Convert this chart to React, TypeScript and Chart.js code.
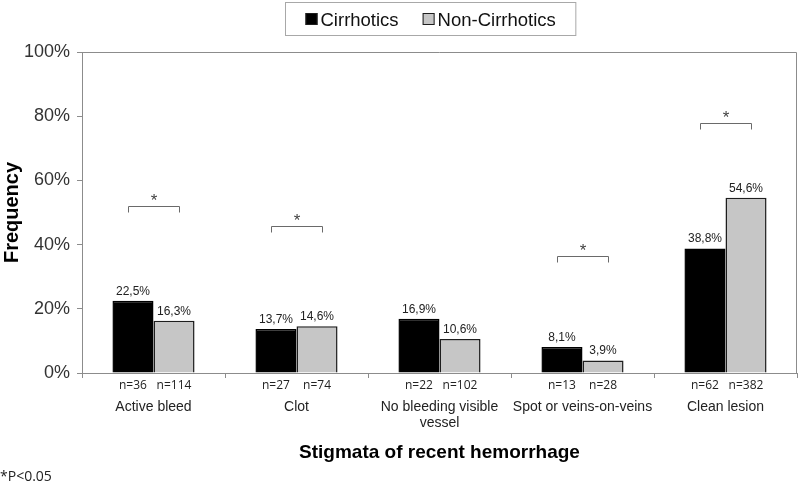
import React, { useEffect, useRef } from "react";
import { Chart, registerables } from "chart.js";

Chart.register(...registerables);

// ---- data ----
const categories: (string | string[])[] = [
  "Active bleed",
  "Clot",
  ["No bleeding visible", "vessel"],
  "Spot or veins-on-veins",
  "Clean lesion",
];
const seriesLabels = ["Cirrhotics", "Non-Cirrhotics"];
const cirrhotics = [22.5, 13.7, 16.9, 8.1, 38.8];
const nonCirrhotics = [16.3, 14.6, 10.6, 3.9, 54.6];
const nCirrhotics = [36, 27, 22, 13, 62];
const nNonCirrhotics = [114, 74, 102, 28, 382];
// height (in %) of the significance bracket for each category (null = none)
const significanceLevels: (number | null)[] = [52, 45.8, null, 36.4, 77.9];
const yMin = 0;
const yMax = 100;
const yStep = 20;
const xTitle = "Stigmata of recent hemorrhage";
const yTitle = "Frequency";
const footnote = "*P<0.05";

const SANS = '"Liberation Sans", Arial, sans-serif';
const AXIS_COLOR = "#8c8c8c";

const annotatePlugin = {
  id: "annotate",
  afterDraw(chart: any) {
    const ctx = chart.ctx as CanvasRenderingContext2D;
    const { left, right, top, bottom } = chart.chartArea;
    ctx.save();

    // top and right frame of the plot area
    ctx.strokeStyle = AXIS_COLOR;
    ctx.lineWidth = 1;
    ctx.beginPath();
    ctx.moveTo(left, top + 0.5);
    ctx.lineTo(right - 0.5, top + 0.5);
    ctx.lineTo(right - 0.5, bottom);
    ctx.stroke();

    // value labels above bars and n labels under the axis
    const nArrays = [nCirrhotics, nNonCirrhotics];
    chart.data.datasets.forEach((ds: any, di: number) => {
      const meta = chart.getDatasetMeta(di);
      meta.data.forEach((bar: any, i: number) => {
        const v = ds.data[i] as number;
        ctx.fillStyle = "#222";
        ctx.textAlign = "center";
        ctx.textBaseline = "alphabetic";
        ctx.font = `12px ${SANS}`;
        ctx.fillText(v.toFixed(1).replace(".", ",") + "%", bar.x, bar.y - 6);
        ctx.font = `12px "Open Sans", sans-serif`;
        ctx.fillText("n=" + nArrays[di][i], bar.x, bottom + 15.5);
      });
    });

    // significance brackets
    const yScale = chart.scales.y;
    significanceLevels.forEach((lvl, i) => {
      if (lvl == null) return;
      const b0 = chart.getDatasetMeta(0).data[i];
      const b1 = chart.getDatasetMeta(1).data[i];
      const x0 = Math.round(b0.x - 5) + 0.5;
      const x1 = Math.round(b1.x + 5) + 0.5;
      const yy = Math.round(yScale.getPixelForValue(lvl)) + 0.5;
      ctx.strokeStyle = "#6a6a6a";
      ctx.lineWidth = 1;
      ctx.beginPath();
      ctx.moveTo(x0, yy + 6);
      ctx.lineTo(x0, yy);
      ctx.lineTo(x1, yy);
      ctx.lineTo(x1, yy + 6);
      ctx.stroke();
      ctx.fillStyle = "#444";
      ctx.font = `17px ${SANS}`;
      ctx.textAlign = "center";
      ctx.textBaseline = "alphabetic";
      ctx.fillText("*", (x0 + x1) / 2, yy - 1);
    });

    // legend with frame
    ctx.font = `18.5px ${SANS}`;
    const box = 12;
    const gap = 3;
    const itemGap = 24;
    const widths = chart.data.datasets.map(
      (ds: any) => box + gap + ctx.measureText(ds.label).width
    );
    const total =
      widths.reduce((a: number, b: number) => a + b, 0) +
      itemGap * (widths.length - 1);
    const padX = 20;
    const center = 430.5;
    const lx = Math.round(center - total / 2 - padX) + 0.5;
    ctx.strokeStyle = "#a8a8a8";
    ctx.lineWidth = 1;
    ctx.strokeRect(lx, 2.5, total + 2 * padX, 33);
    let x = lx + padX;
    chart.data.datasets.forEach((ds: any, di: number) => {
      ctx.fillStyle = ds.backgroundColor;
      ctx.fillRect(x, 13, box, box);
      ctx.strokeStyle = "#1e1e1e";
      ctx.lineWidth = 1;
      ctx.strokeRect(x + 0.5, 13.5, box - 1, box - 1);
      ctx.fillStyle = "#111";
      ctx.textAlign = "left";
      ctx.textBaseline = "alphabetic";
      ctx.fillText(ds.label, x + box + gap, 26);
      x += widths[di] + itemGap;
    });

    // footnote
    ctx.font = `14px "Open Sans", sans-serif`;
    ctx.fillStyle = "#222";
    ctx.textAlign = "left";
    ctx.fillText(footnote, 0, 481);

    ctx.restore();
  },
};

export default function App() {
  const canvasRef = useRef<HTMLCanvasElement | null>(null);

  useEffect(() => {
    if (!canvasRef.current) return;
    const chart = new Chart(canvasRef.current, {
      type: "bar",
      data: {
        labels: categories,
        datasets: [
          {
            label: seriesLabels[0],
            data: cirrhotics,
            backgroundColor: "#000000",
            borderColor: "#000000",
            borderWidth: 1.5,
            categoryPercentage: 0.574,
            barPercentage: 1,
          },
          {
            label: seriesLabels[1],
            data: nonCirrhotics,
            backgroundColor: "#c6c6c6",
            borderColor: "#1e1e1e",
            borderWidth: 1.5,
            categoryPercentage: 0.574,
            barPercentage: 1,
          },
        ],
      },
      options: {
        responsive: false,
        animation: false,
        devicePixelRatio: 1,
        layout: { padding: { top: 52, right: 3, bottom: 18, left: 0 } },
        plugins: {
          legend: { display: false },
          tooltip: { enabled: false },
        },
        scales: {
          x: {
            grid: {
              display: true,
              drawOnChartArea: false,
              drawTicks: true,
              tickLength: 5,
              color: AXIS_COLOR,
              offset: true,
            },
            border: { display: true, color: AXIS_COLOR, width: 1 },
            ticks: {
              padding: 21,
              color: "#222",
              font: { family: SANS, size: 14, lineHeight: 1.15 },
              maxRotation: 0,
              autoSkip: false,
            },
            title: {
              display: true,
              text: xTitle,
              color: "#000",
              font: { family: SANS, size: 19, weight: "bold" },
              padding: { top: 0, bottom: 0 },
            },
            afterFit(scale: any) {
              scale.height = 91;
            },
          },
          y: {
            min: yMin,
            max: yMax,
            grid: {
              display: true,
              drawOnChartArea: false,
              drawTicks: true,
              tickLength: 5,
              color: AXIS_COLOR,
            },
            border: { display: true, color: AXIS_COLOR, width: 1 },
            ticks: {
              stepSize: yStep,
              padding: 7,
              color: "#333",
              font: { family: SANS, size: 18 },
              callback: (v: any) => v + "%",
            },
            title: {
              display: true,
              text: yTitle,
              color: "#000",
              font: { family: SANS, size: 20, weight: "bold" },
              padding: { top: 0, bottom: 0 },
            },
            afterFit(scale: any) {
              scale.width = 82;
            },
          },
        },
      },
      plugins: [annotatePlugin],
    } as any);
    return () => chart.destroy();
  }, []);

  return (
    <div style={{ position: "absolute", left: 0, top: 0, width: 800, height: 482, background: "#fff" }}>
      <canvas ref={canvasRef} width={800} height={482} style={{ display: "block" }} />
    </div>
  );
}
